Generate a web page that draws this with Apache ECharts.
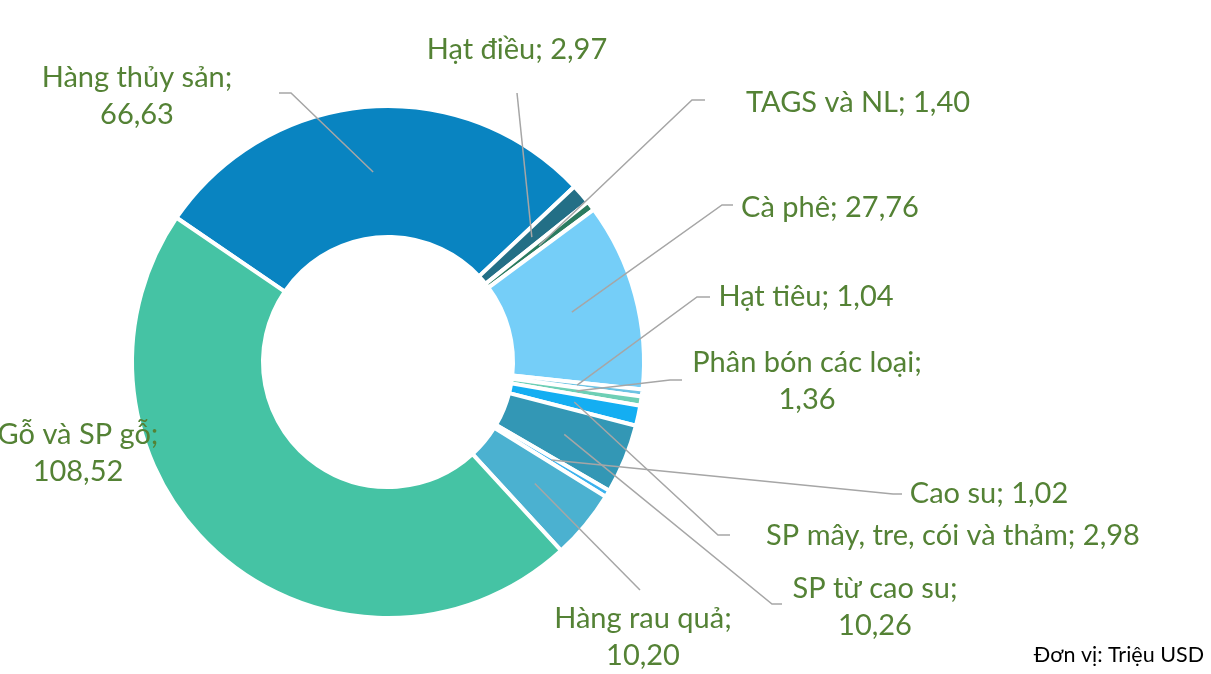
<!DOCTYPE html>
<html>
<head>
<meta charset="utf-8">
<script src="https://cdn.jsdelivr.net/npm/echarts@6/dist/echarts.min.js"></script>
<style>
  html, body { margin: 0; padding: 0; background: #fff; }
  #chart { width: 1211px; height: 674px; }
</style>
</head>
<body>
<div id="chart"></div>
<script>
// số liệu (triệu USD), thứ tự theo chiều kim đồng hồ
const categories = ['Hàng thủy sản', 'Hạt điều', 'TAGS và NL', 'Cà phê', 'Hạt tiêu', 'Phân bón các loại',
  'SP mây, tre, cói và thảm', 'SP từ cao su', 'Cao su', 'Hàng rau quả', 'Gỗ và SP gỗ']
const values = [66.63, 2.97, 1.40, 27.76, 1.04, 1.36, 2.98, 10.26, 1.02, 10.20, 108.52]
const sliceColors = ['#0984C1', '#236F86', '#2A7B5F', '#75CEF8', '#6CC3E3', '#6DCFB5',
  '#14AEF2', '#3397B5', '#3CB2EE', '#4BB1D0', '#45C3A4']
const unitText = 'Đơn vị: Triệu USD'

// vị trí nhãn (px) và điểm cuối đường dẫn
const labelPos = [
  { x: 137, y: 96, wrap: true, line: [[291, 93], [279, 93]] },
  { x: 517, y: 50, line: [[517, 93]] },
  { x: 858, y: 103, line: [[692, 100], [705, 100]] },
  { x: 830, y: 208, line: [[722, 205], [733, 205]] },
  { x: 806, y: 297, line: [[697, 297], [710, 297]] },
  { x: 807, y: 381, wrap: true, line: [[670, 380], [682, 380]] },
  { x: 953, y: 536, line: [[718, 535], [730, 535]] },
  { x: 875, y: 607, wrap: true, line: [[772, 604], [782, 604]] },
  { x: 989, y: 494, line: [[893, 494], [902, 494]] },
  { x: 643, y: 637, wrap: true, line: [[640, 590]] },
  { x: 78, y: 453, wrap: true, line: null }
]

const fmt = v => v.toFixed(2).replace('.', ',')

const chart = echarts.init(document.getElementById('chart'))

const option = {
  animation: false,
  title: {
    text: unitText,
    right: 2,
    bottom: 3,
    textStyle: { fontFamily: 'Lato', fontSize: 21.5, fontWeight: 'normal', color: '#000' }
  },
  series: [{
    type: 'pie',
    center: [388, 362],
    radius: [125, 256],
    startAngle: 145.7,
    clockwise: true,
    avoidLabelOverlap: false,
    minShowLabelAngle: 0,
    emphasis: { disabled: true },
    itemStyle: { borderColor: '#fff', borderWidth: 4 },
    label: {
      show: true,
      position: 'outside',
      fontFamily: 'Lato',
      fontSize: 29,
      lineHeight: 37,
      color: '#548235',
      formatter: p => {
        const pos = labelPos[p.dataIndex]
        return p.name + (pos.wrap ? ';\n' : '; ') + fmt(p.value)
      }
    },
    labelLine: { show: false },
    labelLayout: params => {
      const pos = labelPos[params.dataIndex]
      return { x: pos.x, y: pos.y, align: 'center', verticalAlign: 'middle' }
    },
    data: categories.map((name, i) => ({
      name,
      value: values[i],
      itemStyle: { color: sliceColors[i] }
    }))
  }]
}

chart.setOption(option)

// đường dẫn: bắt đầu giữa vành lát cắt (lấy từ layout của ECharts) tới nhãn
const pieData = chart.getModel().getSeriesByIndex(0).getData()
const leaders = []
labelPos.forEach((pos, i) => {
  if (!pos.line) return
  const lay = pieData.getItemLayout(i)
  const mid = (lay.startAngle + lay.endAngle) / 2
  const rm = (lay.r + lay.r0) / 2
  const anchor = [lay.cx + rm * Math.cos(mid), lay.cy + rm * Math.sin(mid)]
  leaders.push({
    type: 'polyline',
    z: 100,
    silent: true,
    shape: { points: [anchor].concat(pos.line) },
    style: { stroke: '#A6A6A6', lineWidth: 1.5, fill: null }
  })
})
chart.setOption({ graphic: leaders })
</script>
</body>
</html>
